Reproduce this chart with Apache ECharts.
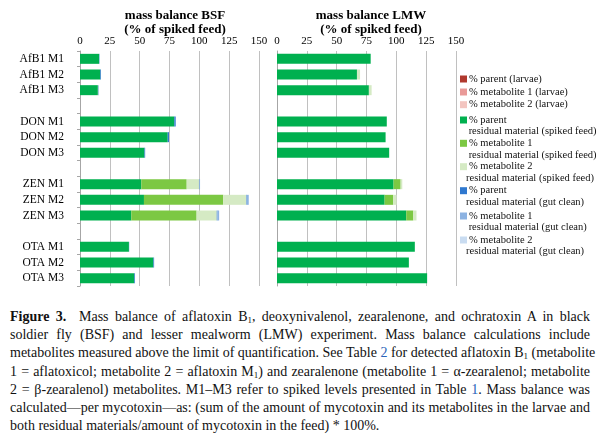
<!DOCTYPE html>
<html>
<head>
<meta charset="utf-8">
<script src="https://cdn.jsdelivr.net/npm/echarts@6/dist/echarts.min.js"></script>
<style>
  body { margin: 0; background: #fff; }
  #chart { position: absolute; left: 0; top: 0; width: 600px; height: 300px; }
  #caption {
    position: absolute; left: 10px; top: 308px; width: 580px;
    font-family: "Liberation Serif", serif; font-size: 14px; line-height: 18.2px; color: #111;
  }
  #caption div { text-align: justify; text-align-last: justify; white-space: nowrap; }
  #caption div.last { text-align-last: left; }
  #caption sub { font-size: 9px; vertical-align: -2px; line-height: 0; }
  #caption .ref { color: #2a62b8; }
</style>
</head>
<body>
<div id="chart"></div>
<div id="caption">
  <div><b>Figure 3.</b>&nbsp; Mass balance of aflatoxin B<sub>1</sub>, deoxynivalenol, zearalenone, and ochratoxin A in black</div>
  <div>soldier fly (BSF) and lesser mealworm (LMW) experiment. Mass balance calculations include</div>
  <div>metabolites measured above the limit of quantification. See Table <span class="ref">2</span> for detected aflatoxin B<sub>1</sub> (metabolite</div>
  <div>1 = aflatoxicol; metabolite 2 = aflatoxin M<sub>1</sub>) and zearalenone (metabolite 1 = α-zearalenol; metabolite</div>
  <div>2 = β-zearalenol) metabolites. M1–M3 refer to spiked levels presented in Table <span class="ref">1</span>. Mass balance was</div>
  <div>calculated—per mycotoxin—as: (sum of the amount of mycotoxin and its metabolites in the larvae and</div>
  <div class="last">both residual materials/amount of mycotoxin in the feed) * 100%.</div>
</div>
<script>
// rows (blank names are the gaps between toxins)
var categories = ['AfB1 M1', 'AfB1 M2', 'AfB1 M3', ' ',
                  'DON M1', 'DON M2', 'DON M3', '  ',
                  'ZEN M1', 'ZEN M2', 'ZEN M3', '   ',
                  'OTA M1', 'OTA M2', 'OTA M3'];
var ticks = [0, 25, 50, 75, 100, 125, 150];

var seriesNames = ['% parent (larvae)', '% metabolite 1 (larvae)', '% metabolite 2 (larvae)',
                   '% parent residual material (spiked feed)', '% metabolite 1 residual material (spiked feed)',
                   '% metabolite 2 residual material (spiked feed)', '% parent residual material (gut clean)',
                   '% metabolite 1 residual material (gut clean)', '% metabolite 2 residual material (gut clean)'];
var colors = ['#b0392e', '#e99a98', '#f3c5c0', '#00b04f', '#7cc843', '#d5eac4', '#2f78cf', '#8db3e2', '#c9dcf1'];

// BSF (% of spiked feed)
var bsfParentLarvae = [0, 0, 0, null, 0, 0, 0, null, 0, 0, 0, null, 0, 0, 0];
var bsfMet1Larvae   = [0, 0, 0, null, 0, 0, 0, null, 0, 0, 0, null, 0, 0, 0];
var bsfMet2Larvae   = [0, 0, 0, null, 0, 0, 0, null, 0, 0, 0, null, 0, 0, 0];
var bsfParentFeed   = [16, 17, 15, null, 79, 73.5, 54, null, 51.4, 53.6, 43, null, 41, 61.5, 45.5];
var bsfMet1Feed     = [0, 0, 0, null, 0, 0, 0, null, 38, 66.4, 54.7, null, 0, 0, 0];
var bsfMet2Feed     = [0, 0, 0.4, null, 0, 0, 0, null, 10.3, 19.4, 16.9, null, 0, 0, 0];
var bsfParentGut    = [0.3, 0.6, 0.3, null, 1.2, 1.1, 0.6, null, 0.3, 0.4, 0.4, null, 0.2, 0.6, 0.6];
var bsfMet1Gut      = [0, 0, 0, null, 0, 0, 0, null, 0.6, 1.6, 1.6, null, 0, 0, 0];
var bsfMet2Gut      = [0, 0, 0, null, 0, 0, 0, null, 0, 0, 0, null, 0, 0, 0];

// LMW (% of spiked feed)
var lmwParentLarvae = [0, 0, 0, null, 0, 0, 0, null, 0, 0, 0, null, 0, 0, 0];
var lmwMet1Larvae   = [0, 0, 0, null, 0, 0, 0, null, 0, 0, 0, null, 0, 0, 0];
var lmwMet2Larvae   = [0, 0, 0, null, 0, 0, 0, null, 0, 0, 0, null, 0, 0, 0];
var lmwParentFeed   = [78.5, 67, 77, null, 92, 91, 94, null, 97.7, 90.2, 108.3, null, 115.5, 110.5, 125.8];
var lmwMet1Feed     = [0, 0, 0, null, 0, 0, 0, null, 5.9, 7.2, 5.9, null, 0, 0, 0];
var lmwMet2Feed     = [0, 2.6, 2.3, null, 0, 0, 0, null, 1.4, 2.8, 2.7, null, 0, 0, 0];
var lmwParentGut    = [0, 0, 0, null, 0, 0, 0, null, 0, 0, 0, null, 0, 0, 0];
var lmwMet1Gut      = [0, 0, 0, null, 0, 0, 0, null, 0, 0, 0, null, 0, 0, 0];
var lmwMet2Gut      = [0, 0, 0, null, 0, 0, 0, null, 0, 0, 0, null, 0, 0, 0];

var bsfData = [bsfParentLarvae, bsfMet1Larvae, bsfMet2Larvae, bsfParentFeed, bsfMet1Feed, bsfMet2Feed, bsfParentGut, bsfMet1Gut, bsfMet2Gut];
var lmwData = [lmwParentLarvae, lmwMet1Larvae, lmwMet2Larvae, lmwParentFeed, lmwMet1Feed, lmwMet2Feed, lmwParentGut, lmwMet1Gut, lmwMet2Gut];

// legend lines, drawn by hand so the swatch sits on the first line
var legendLines = [
  ['% parent (larvae)'], ['% metabolite 1 (larvae)'], ['% metabolite 2 (larvae)'],
  ['% parent', ' residual material (spiked feed)'], ['% metabolite 1', ' residual material (spiked feed)'],
  ['% metabolite 2', 'residual material (spiked feed)'], ['% parent', 'residual material (gut clean)'],
  ['% metabolite 1', ' residual material (gut clean)'], ['% metabolite 2', 'residual material (gut clean)']
];
var legendY = [79, 92, 104.7, 120, 143.3, 166.7, 190.7, 216, 240];

var font = 'Liberation Serif';
var chart = echarts.init(document.getElementById('chart'));

var series = [];
[bsfData, lmwData].forEach(function (set, g) {
  set.forEach(function (vals, i) {
    series.push({
      name: seriesNames[i],
      type: 'bar',
      stack: 'p' + g,
      xAxisIndex: g,
      yAxisIndex: g,
      barWidth: 10,
      itemStyle: { color: colors[i] },
      data: vals
    });
  });
});

function xAxis(g) {
  return {
    gridIndex: g, type: 'value', position: 'top',
    min: ticks[0], max: ticks[ticks.length - 1], interval: 25,
    axisLine: { show: false }, axisTick: { show: false },
    axisLabel: { fontFamily: font, fontSize: 11, color: '#000', margin: 4 },
    splitLine: { lineStyle: { color: '#c0c0c0', width: 1 } }
  };
}
function yAxis(g) {
  return {
    gridIndex: g, type: 'category', inverse: true, data: categories,
    axisLine: { lineStyle: { color: '#a6a6a6' } },
    axisTick: { show: g === 0, length: 3, lineStyle: { color: '#a6a6a6' } },
    axisLabel: { show: g === 0, fontFamily: font, fontSize: 11.5, color: '#000', margin: 16 }
  };
}

var graphics = [];
legendLines.forEach(function (lines, i) {
  graphics.push({ type: 'rect', shape: { x: 460, y: legendY[i] - 3.5, width: 7, height: 7 }, style: { fill: colors[i] } });
  lines.forEach(function (t, k) {
    graphics.push({
      type: 'text', x: k === 0 ? 469 : 466, y: legendY[i] + k * 11.5,
      style: { text: t, font: '10.5px ' + font, fill: '#111', verticalAlign: 'middle' }
    });
  });
});

var option = {
  animation: false,
  title: [
    { text: 'mass balance BSF\n(% of spiked feed)', left: 170, top: 4, textAlign: 'center',
      textStyle: { fontFamily: font, fontSize: 13, fontWeight: 'bold', color: '#000', lineHeight: 14 } },
    { text: 'mass balance LMW\n(% of spiked feed)', left: 366, top: 4, textAlign: 'center',
      textStyle: { fontFamily: font, fontSize: 13, fontWeight: 'bold', color: '#000', lineHeight: 14 } }
  ],
  grid: [
    { left: 80, top: 51, width: 179, height: 235 },
    { left: 277, top: 51, width: 179, height: 235 }
  ],
  xAxis: [xAxis(0), xAxis(1)],
  yAxis: [yAxis(0), yAxis(1)],
  series: series,
  graphic: graphics
};

chart.setOption(option);
window.onresize = function () { chart.resize(); };
</script>
</body>
</html>
